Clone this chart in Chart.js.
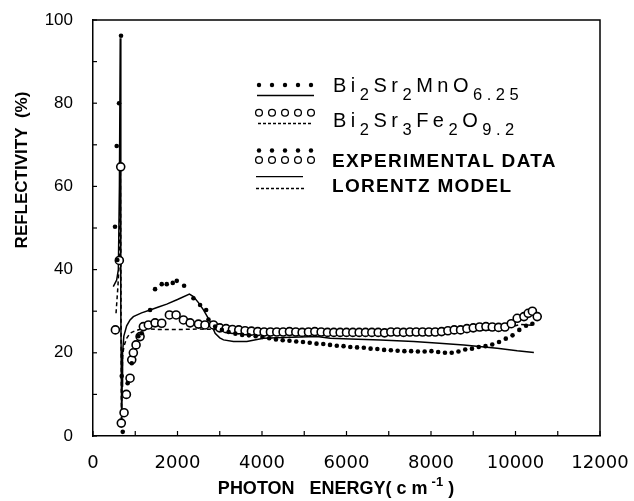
<!DOCTYPE html>
<html>
<head>
<meta charset="utf-8">
<script src="https://cdn.jsdelivr.net/npm/chart.js@4.4.1/dist/chart.umd.min.js"></script>
<style>
html, body { margin: 0; padding: 0; background: #fff; }
#wrap { width: 634px; height: 501px; }
</style>
</head>
<body>
<div id="wrap"><canvas id="chart_reflectivity"></canvas></div>
<script>
// Bi2Sr2MnO6.25, experimental (filled dots)
var mnExpX = [521, 561, 576, 616, 663, 680, 704, 820, 917, 1074, 1154, 1351, 1469, 1627, 1746, 1888, 1983, 2156, 2377, 2535, 2678, 2733, 2891,
  3050, 3210, 3370, 3530, 3690, 3850, 4010, 4170, 4330, 4490, 4650, 4810, 4970, 5130, 5290, 5450, 5610, 5770, 5930, 6090, 6250, 6410,
  6570, 6730, 6890, 7050, 7210, 7370, 7530, 7690, 7850, 8010, 8170, 8330, 8490, 8650, 8810, 8970, 9130, 9290, 9450, 9610, 9770, 9930,
  10090, 10250, 10400];
var mnExpY = [50.3, 69.7, 42.3, 80, 96.2, 14.4, 1.0, 12.7, 17.5, 24.0, 24.7, 30.3, 35.3, 36.5, 36.5, 36.8, 37.3, 36.1, 33.1, 31.5, 30.3, 28.0, 26.3,
  25.5, 25.0, 24.6, 24.3, 24.2, 24.0, 23.8, 23.5, 23.2, 23.0, 22.9, 22.7, 22.6, 22.4, 22.2, 22.1, 21.9, 21.7, 21.6, 21.4, 21.3, 21.2,
  21.0, 20.9, 20.7, 20.6, 20.5, 20.4, 20.4, 20.3, 20.3, 20.4, 20.2, 20.0, 20.0, 20.3, 20.8, 21.0, 21.4, 21.6, 22.0, 22.6, 23.4, 24.2,
  25.5, 26.5, 27.0];

// Bi2Sr3Fe2O9.2, experimental (open circles)
var feExpX = [530, 623, 656, 670, 735, 790, 877, 917, 955, 1019, 1114, 1192, 1310, 1469, 1627, 1808, 1967, 2140, 2299, 2496, 2650, 2851, 3000,
  3150, 3300, 3450, 3600, 3750, 3900, 4050, 4200, 4350, 4500, 4650, 4800, 4950, 5100, 5250, 5400, 5550, 5700, 5850, 6000, 6150, 6300,
  6450, 6600, 6750, 6900, 7050, 7200, 7350, 7500, 7650, 7800, 7950, 8100, 8250, 8400, 8550, 8700, 8850, 9000, 9150, 9300, 9450, 9600,
  9750, 9900, 10040, 10200, 10300, 10400, 10514];
var feExpY = [25.5, 42.2, 64.7, 3.1, 5.6, 10.0, 13.9, 18.3, 20.0, 21.9, 23.9, 26.3, 26.7, 27.2, 27.1, 29.1, 29.1, 27.9, 27.2, 26.9, 26.7, 26.7, 26.0,
  25.8, 25.6, 25.5, 25.3, 25.2, 25.1, 25.0, 25.0, 25.0, 25.0, 25.1, 25.0, 24.9, 25.0, 25.1, 25.0, 24.9, 24.9, 24.9, 24.9, 24.9, 24.9,
  24.9, 24.9, 24.9, 24.8, 25.0, 25.0, 24.9, 25.0, 25.0, 25.0, 25.0, 25.0, 25.1, 25.3, 25.5, 25.5, 25.8, 26.0, 26.2, 26.3, 26.2, 26.1,
  26.2, 27.0, 28.3, 28.7, 29.5, 30.0, 28.7];

// Lorentz model, Bi2Sr2MnO6.25 (solid)
var mnModelX = [480, 560, 600, 625, 645, 655, 662, 680, 690, 700, 730, 797, 877, 955, 1150, 1351, 1550, 1746, 2000, 2282, 2378, 2500, 2614,
  2773, 2891, 3000, 3089, 3325, 3641, 4036, 4510, 5300, 5616, 6090, 6801, 7591, 8200, 8776, 9566, 10040, 10435];
var mnModelY = [35.9, 37.5, 40, 60, 95.6, 80, 30, 2.2, 12, 20, 24, 26.5, 27.9, 28.7, 29.6, 30.3, 31.0, 31.7, 32.8, 34.1, 33.5, 32.0, 30.3,
  27.5, 24.7, 23.6, 23.1, 22.7, 22.7, 23.5, 23.7, 23.9, 23.5, 23.3, 23.1, 22.7, 22.3, 21.9, 21.1, 20.5, 20.1];

// Lorentz model, Bi2Sr3Fe2O9.2 (dashed)
var feModelX = [545, 590, 623, 648, 658, 672, 685, 700, 730, 797, 877, 955, 1192, 1500, 2000, 2500, 3000, 3500, 4000, 5000, 6000, 7000,
  8000, 9000, 9500, 9800, 10100, 10450];
var feModelY = [29.5, 36, 42, 65, 45, 4, 12, 19, 21.5, 23.5, 24.7, 25.1, 25.9, 25.6, 25.6, 25.7, 25.6, 25.4, 25.2, 25.1, 25.1, 25.1,
  25.2, 25.3, 25.5, 26.0, 26.8, 26.6];

var xTicks = [0, 2000, 4000, 6000, 8000, 10000, 12000];
var yTicks = [0, 20, 40, 60, 80, 100];

function pairs(xs, ys) {
  return xs.map(function(x, i) { return { x: x, y: ys[i] }; });
}

var SANS = '"Liberation Sans", Arial, Helvetica, sans-serif';

function drawRich(ctx, x, y, parts, mainFont, subFont, subDrop, spacing) {
  parts.forEach(function(p) {
    ctx.font = p.sub ? subFont : mainFont;
    ctx.letterSpacing = spacing + 'px';
    ctx.fillText(p.t, x, p.sub ? y + subDrop : y);
    x += ctx.measureText(p.t).width;
  });
}

function dotRow(ctx, y, r, filled) {
  [259, 272, 285, 298, 311].forEach(function(x) {
    ctx.beginPath();
    ctx.arc(x, y, r, 0, Math.PI * 2);
    if (filled) { ctx.fill(); } else { ctx.stroke(); }
  });
}

function hLine(ctx, x1, x2, y, dash) {
  ctx.setLineDash(dash || []);
  ctx.beginPath();
  ctx.moveTo(x1, y); ctx.lineTo(x2, y);
  ctx.stroke();
  ctx.setLineDash([]);
}

var figureDecor = {
  id: 'figureDecor',
  afterDraw: function(chart) {
    var ctx = chart.ctx, a = chart.chartArea;
    var xs = chart.scales.x, ys = chart.scales.y;
    ctx.save();
    ctx.strokeStyle = '#000';
    ctx.fillStyle = '#000';

    // box top/right
    ctx.lineWidth = 1.5;
    ctx.beginPath();
    ctx.moveTo(a.left, a.top); ctx.lineTo(a.right, a.top); ctx.lineTo(a.right, a.bottom);
    ctx.stroke();

    // inward ticks
    ctx.lineWidth = 1.2;
    xs.ticks.forEach(function(t) {
      var px = xs.getPixelForValue(t.value);
      ctx.beginPath(); ctx.moveTo(px, a.bottom); ctx.lineTo(px, a.bottom - 5); ctx.stroke();
    });
    ys.ticks.forEach(function(t) {
      var py = ys.getPixelForValue(t.value);
      ctx.beginPath(); ctx.moveTo(a.left, py); ctx.lineTo(a.left + 4, py); ctx.stroke();
    });

    // legend
    ctx.lineWidth = 1.3;
    dotRow(ctx, 85, 2.2, true);
    hLine(ctx, 257, 314, 95.5);
    dotRow(ctx, 112.7, 3.4, false);
    hLine(ctx, 258, 311, 123.5, [3, 2]);
    dotRow(ctx, 150.5, 2.2, true);
    dotRow(ctx, 160, 3.4, false);
    hLine(ctx, 256, 303, 176.7);
    hLine(ctx, 256, 305, 188.5, [3, 2]);

    ctx.textAlign = 'left';
    ctx.textBaseline = 'alphabetic';
    var mainF = '20px ' + SANS, subF = '16.5px ' + SANS;
    drawRich(ctx, 333, 92, [
      { t: 'Bi' }, { t: '2', sub: true }, { t: 'Sr' }, { t: '2', sub: true }, { t: 'MnO' }, { t: '6.25', sub: true }
    ], mainF, subF, 8, 4.5);
    drawRich(ctx, 333, 126.5, [
      { t: 'Bi' }, { t: '2', sub: true }, { t: 'Sr' }, { t: '3', sub: true }, { t: 'Fe' }, { t: '2', sub: true }, { t: 'O' }, { t: '9.2', sub: true }
    ], mainF, subF, 8, 4.5);
    ctx.letterSpacing = '1.3px';
    ctx.font = 'bold 19px ' + SANS;
    ctx.fillText('EXPERIMENTAL DATA', 332, 166.5);
    ctx.fillText('LORENTZ MODEL', 332, 191.5);
    ctx.letterSpacing = '0px';

    // x title with superscript
    var xf = 'bold 18px ' + SANS, sf = 'bold 13px ' + SANS;
    var head = 'PHOTON   ENERGY( c m', sup = '-1', tail = ' )';
    ctx.font = xf; var w1 = ctx.measureText(head).width, w3 = ctx.measureText(tail).width;
    ctx.font = sf; var w2 = ctx.measureText(sup).width + 4;
    var x0 = 336 - (w1 + w2 + w3) / 2;
    ctx.font = xf; ctx.fillText(head, x0, 494);
    ctx.font = sf; ctx.fillText(sup, x0 + w1 + 4, 486);
    ctx.font = xf; ctx.fillText(tail, x0 + w1 + w2, 494);

    // y title
    ctx.translate(22, 170);
    ctx.rotate(-Math.PI / 2);
    ctx.textAlign = 'center';
    ctx.textBaseline = 'middle';
    ctx.font = 'bold 17px ' + SANS;
    ctx.fillText('REFLECTIVITY  (%)', 0, 0);
    ctx.restore();
  }
};

var chart_reflectivity = new Chart(document.getElementById('chart_reflectivity'), {
  type: 'scatter',
  data: {
    datasets: [
      {
        label: 'Bi2Sr2MnO6.25 experimental',
        data: pairs(mnExpX, mnExpY),
        pointRadius: 2.3,
        pointBackgroundColor: '#000',
        pointBorderWidth: 0,
        showLine: false
      },
      {
        label: 'Bi2Sr3Fe2O9.2 experimental',
        data: pairs(feExpX, feExpY),
        pointRadius: 4,
        pointBackgroundColor: '#fff',
        pointBorderColor: '#000',
        pointBorderWidth: 1.6,
        showLine: false
      },
      {
        label: 'Bi2Sr2MnO6.25 Lorentz model',
        data: pairs(mnModelX, mnModelY),
        showLine: true,
        pointRadius: 0,
        borderColor: '#000',
        borderWidth: 1.5,
        tension: 0
      },
      {
        label: 'Bi2Sr3Fe2O9.2 Lorentz model',
        data: pairs(feModelX, feModelY),
        showLine: true,
        pointRadius: 0,
        borderColor: '#000',
        borderWidth: 1.5,
        borderDash: [4, 3],
        tension: 0
      }
    ]
  },
  options: {
    animation: false,
    responsive: true,
    maintainAspectRatio: false,
    layout: { padding: { top: 20, right: 34, left: 0, bottom: 0 } },
    plugins: {
      legend: { display: false },
      tooltip: { enabled: false }
    },
    scales: {
      x: {
        type: 'linear',
        min: 0,
        max: 12000,
        grid: { display: false, drawTicks: false },
        border: { display: true, color: '#000', width: 1.5 },
        afterFit: function(scale) {
          scale.height = 65;
          scale.paddingLeft = 0;
          scale.paddingRight = 0;
        },
        ticks: {
          stepSize: 1000,
          autoSkip: false,
          maxRotation: 0,
          padding: 17,
          color: '#000',
          font: { family: '"DejaVu Sans", sans-serif', size: 18 },
          callback: function(value) {
            return xTicks.indexOf(value) >= 0 ? String(value) : '';
          }
        }
      },
      y: {
        type: 'linear',
        min: 0,
        max: 100,
        grid: { display: false, drawTicks: false },
        border: { display: true, color: '#000', width: 1.5 },
        afterFit: function(scale) {
          scale.width = 93;
          scale.paddingTop = 0;
          scale.paddingBottom = 0;
        },
        ticks: {
          stepSize: 10,
          autoSkip: false,
          padding: 20,
          color: '#000',
          font: { family: SANS, size: 17 },
          callback: function(value) {
            return yTicks.indexOf(value) >= 0 ? String(value) : '';
          }
        }
      }
    }
  },
  plugins: [figureDecor]
});
</script>
</body>
</html>
